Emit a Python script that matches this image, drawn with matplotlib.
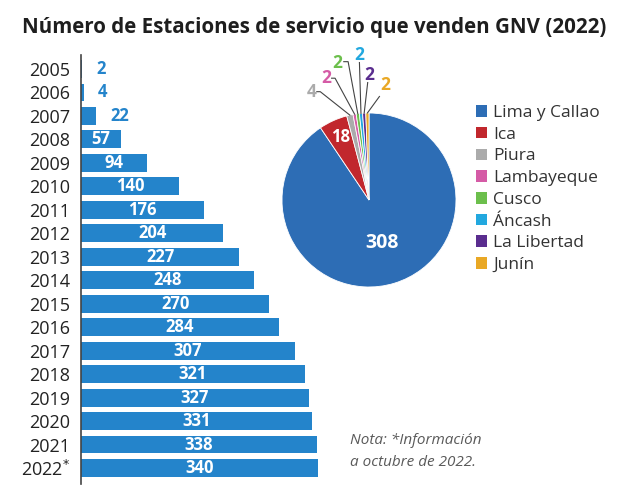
import matplotlib
matplotlib.use("Agg")
import matplotlib.pyplot as plt
from matplotlib.patches import Patch
import numpy as np

years = ["2005", "2006", "2007", "2008", "2009", "2010", "2011", "2012", "2013",
         "2014", "2015", "2016", "2017", "2018", "2019", "2020", "2021", "2022$^{*}$"]
stations = [2, 4, 22, 57, 94, 140, 176, 204, 227, 248, 270, 284, 307, 321, 327, 331, 338, 340]

regions = ["Lima y Callao", "Ica", "Piura", "Lambayeque", "Cusco", "Áncash", "La Libertad", "Junín"]
region_values = [308, 18, 4, 2, 2, 2, 2, 2]
region_colors = ["#2d6db5", "#c1272d", "#ababab", "#d55ba6", "#6cbf4c", "#22a8df", "#5a2d8f", "#e9a825"]

BAR_COLOR = "#2484cb"
FONT = "Open Sans"
plt.rcParams["font.family"] = [FONT, "DejaVu Sans"]

fig = plt.figure(figsize=(6.4, 4.9), dpi=100)
W, H = 640, 490

fig.text(22 / W, 1 - 28 / H, "Número de Estaciones de servicio que venden GNV (2022)",
         fontsize=14.8, fontweight="bold", color="#1e1e1e", va="center", ha="left")

# ---- bar chart ----
top_px, bot_px = 57.25, 479.75
ax = fig.add_axes([81 / W, 1 - bot_px / H, (318 - 81) / W, (bot_px - top_px) / H])
y = np.arange(len(years))
ax.barh(y, stations, height=0.76, color=BAR_COLOR)
ax.set_xlim(0, 340)
ax.set_ylim(len(years) - 0.5, -0.5)
ax.set_yticks(y)
ax.set_yticklabels(years, fontsize=13, color="#222222")
ax.tick_params(axis="y", length=0, pad=8)
ax.set_xticks([])
for s in ["top", "right", "bottom"]:
    ax.spines[s].set_visible(False)
ax.spines["left"].set_color("#444444")
ax.spines["left"].set_linewidth(1.2)
ax.spines["left"].set_bounds(-0.6, len(years) - 0.3)
for yi, v in zip(y, stations):
    if v < 40:
        ax.annotate(str(v), (v, yi), xytext=(10, 0), textcoords="offset points",
                    ha="left", va="center", color=BAR_COLOR, fontsize=12, fontweight="bold")
    else:
        ax.text(v / 2, yi, str(v), ha="center", va="center", color="white",
                fontsize=12, fontweight="bold")

# ---- pie chart ----
cx, cy, r = 369, 200, 87
pax = fig.add_axes([(cx - r) / W, 1 - (cy + r) / H, 2 * r / W, 2 * r / H])
wedges, _ = pax.pie(region_values, colors=region_colors, startangle=90,
                    counterclock=False, radius=1.0,
                    wedgeprops=dict(linewidth=0.6, edgecolor="white"))
pax.set_xlim(-1, 1)
pax.set_ylim(-1, 1)
pax.set_aspect("equal")
pax.axis("off")

# labels inside big slices
for i in (0, 1):
    w = wedges[i]
    a = np.deg2rad((w.theta1 + w.theta2) / 2)
    rr = 0.52 if i == 0 else 0.79
    pax.text(rr * np.cos(a), rr * np.sin(a), str(region_values[i]), ha="center", va="center",
             color="white", fontsize=14 if i == 0 else 12, fontweight="bold")

label_pos = {2: (-0.66, 1.245), 3: (-0.49, 1.40), 4: (-0.37, 1.58),
             5: (-0.11, 1.67), 6: (0.0, 1.44), 7: (0.185, 1.32)}
line_start = {2: (-0.56, 1.245), 3: (-0.39, 1.40), 4: (-0.24, 1.59),
              5: (-0.11, 1.58), 6: (-0.015, 1.35), 7: (0.12, 1.19)}
stub = {2: (-0.6, 1.245), 3: (-0.43, 1.40), 4: (-0.29, 1.59)}
for i in range(2, 8):
    w = wedges[i]
    a = np.deg2rad((w.theta1 + w.theta2) / 2)
    ex, ey = np.cos(a), np.sin(a)
    tx, ty = label_pos[i]
    pax.text(tx, ty, str(region_values[i]), ha="center", va="center",
             color=region_colors[i], fontsize=12.5, fontweight="bold", clip_on=False)
    sx, sy = line_start[i]
    xs, ys = [sx, ex], [sy, ey]
    if i in stub:
        xs = [stub[i][0]] + xs
        ys = [stub[i][1]] + ys
    pax.plot(xs, ys, color="#444444", lw=0.8, clip_on=False)

handles = [Patch(facecolor=c, edgecolor="none") for c in region_colors]
fig.legend(handles, regions, loc="upper left", bbox_to_anchor=(476 / W, 1 - 105 / H),
           frameon=False, fontsize=12.5, handlelength=0.65, handleheight=0.65,
           handletextpad=0.35, labelspacing=0.33, labelcolor="#333333",
           borderaxespad=0, borderpad=0)

fig.text(350 / W, 1 - 440 / H, "Nota: *Información", fontsize=11, style="italic",
         color="#5a5a5a", va="center")
fig.text(350 / W, 1 - 462 / H, "a octubre de 2022.", fontsize=11, style="italic",
         color="#5a5a5a", va="center")

fig.savefig("out.png", dpi=100, facecolor="white")
